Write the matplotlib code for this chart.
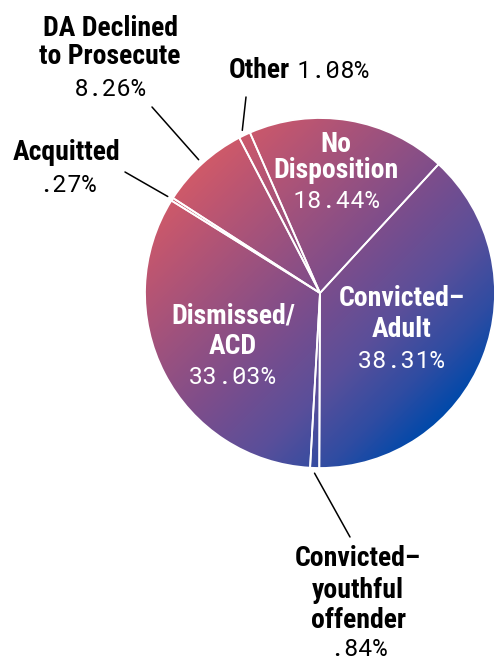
import numpy as np
import matplotlib.pyplot as plt
from matplotlib.colors import LinearSegmentedColormap
from matplotlib.patches import Circle

# data, clockwise from "No Disposition"
categories = ["No\nDisposition", "Convicted\u2013\nAdult", "Convicted\u2013\nyouthful\noffender",
              "Dismissed/\nACD", "Acquitted", "DA Declined\nto Prosecute", "Other"]
shares = [18.44, 38.31, 0.84, 33.03, 0.27, 8.26, 1.08]
pct_labels = ["18.44%", "38.31%", ".84%", "33.03%", ".27%", "8.26%", "1.08%"]

W, H = 498, 660
BOLD = ['Roboto Condensed', 'DejaVu Sans']
MONO = ['Roboto Mono', 'DejaVu Sans Mono']

fig = plt.figure(figsize=(W / 100, H / 100), dpi=100)
fig.patch.set_facecolor('white')

# pie axes: centre (320, 293) px from top, radius 175 px
cx, cy, r = 320, 293, 175
ax = fig.add_axes([(cx - r) / W, (H - cy - r) / H, 2 * r / W, 2 * r / H])

wedges, _ = ax.pie(shares, startangle=113.6, counterclock=False, radius=1,
                   colors=['none'] * len(shares),
                   wedgeprops=dict(edgecolor='white', linewidth=1.3))

# diagonal gradient fill, red top-left to blue bottom-right
cmap = LinearSegmentedColormap.from_list(
    'g', [(0.0, '#cf5a69'), (0.1, '#bf5670'), (0.5, '#7b4d8c'), (0.7, '#5a4f9a'),
          (0.87, '#2f4ca2'), (1.0, '#0049aa')])
xx, yy = np.meshgrid(np.linspace(-1, 1, 400), np.linspace(1, -1, 400))
t = np.clip((xx - yy) / (2 * np.sqrt(2)) + 0.5, 0, 1)
im = ax.imshow(t, cmap=cmap, extent=[-1, 1, -1, 1], zorder=0, vmin=0, vmax=1)
im.set_clip_path(Circle((0, 0), 1, transform=ax.transData))
ax.set_xlim(-1, 1)
ax.set_ylim(-1, 1)
ax.axis('off')


def px(x, y):
    return x / W, 1 - y / H


def label(x, ys, lines, pct, color):
    for yy_, ln in zip(ys[:-1], lines):
        fig.text(*px(x, yy_), ln, ha='center', va='center', color=color,
                 family=BOLD, fontweight=900, fontsize=20)
    fig.text(*px(x, ys[-1]), pct, ha='center', va='center', color=color,
             family=MONO, fontweight=500, fontsize=17.5)


# inside labels
label(336, [145, 170, 201], categories[0].split('\n'), pct_labels[0], 'white')
label(402, [298, 329, 361], categories[1].split('\n'), pct_labels[1], 'white')
label(233, [316, 346, 377], categories[3].split('\n'), pct_labels[3], 'white')

# outside labels
label(358, [559, 591, 620, 650], categories[2].split('\n'), pct_labels[2], 'black')
label(67, [152, 185], categories[4].split('\n'), pct_labels[4], 'black')
label(110, [28, 57, 89], categories[5].split('\n'), pct_labels[5], 'black')
fig.text(*px(259, 71), categories[6], ha='center', va='center', color='black',
         family=BOLD, fontweight=900, fontsize=20)
fig.text(*px(333, 72), pct_labels[6], ha='center', va='center', color='black',
         family=MONO, fontweight=500, fontsize=17.5)

# leader lines from the wedge rims
leader_ends = {2: (350, 537), 4: (125, 172), 5: (152, 107), 6: (246, 97)}
for i, (ex, ey) in leader_ends.items():
    w = wedges[i]
    ang = np.deg2rad((w.theta1 + w.theta2) / 2)
    ax.annotate('', xy=(1.03 * np.cos(ang), 1.03 * np.sin(ang)), xycoords='data',
                xytext=(ex, H - ey), textcoords='figure pixels',
                arrowprops=dict(arrowstyle='-', color='black', lw=1.1,
                                shrinkA=0, shrinkB=0), annotation_clip=False)

fig.savefig('out.png', dpi=100)
